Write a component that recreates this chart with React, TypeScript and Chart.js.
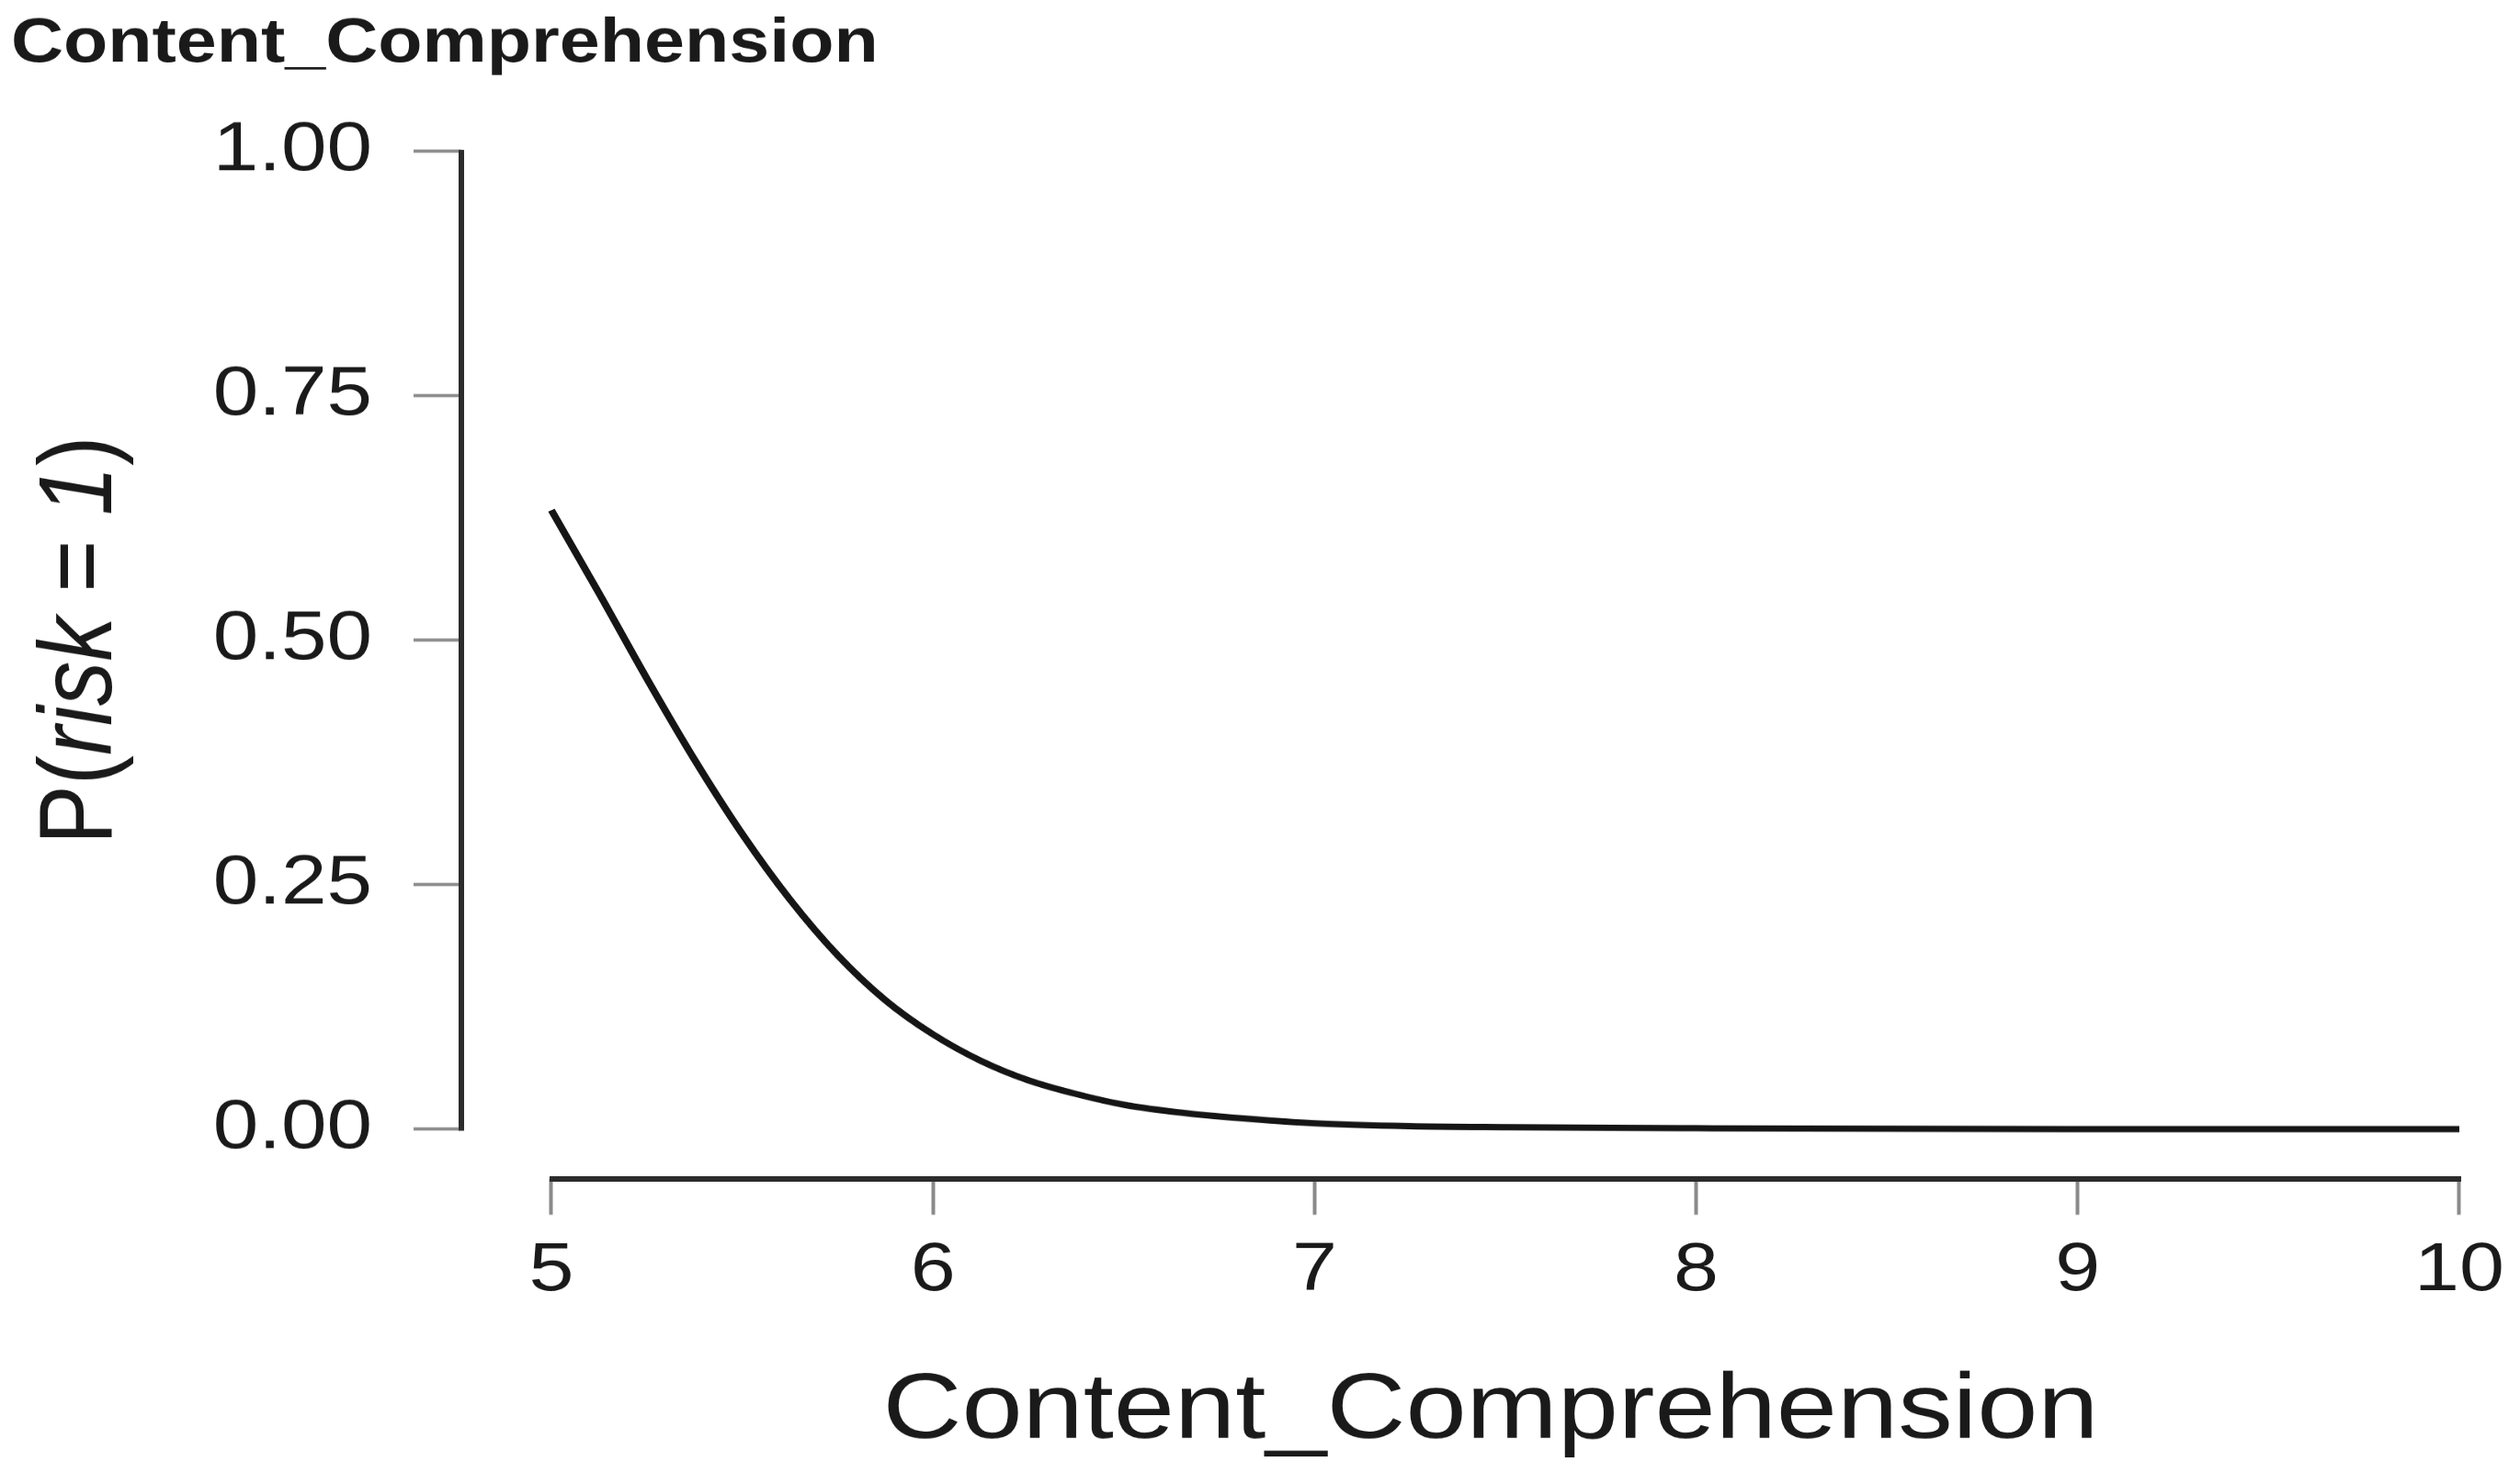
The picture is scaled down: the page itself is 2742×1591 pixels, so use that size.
import React, { useEffect, useRef } from 'react';
import { Chart, registerables } from 'chart.js';

Chart.register(...registerables);

// ---- data ----
const chartTitle = 'Content_Comprehension';
const xAxisTitle = 'Content_Comprehension';
const xValues = [5, 5.125, 5.25, 5.375, 5.5, 5.625, 5.75, 5.875, 6, 6.125, 6.25, 6.375, 6.5, 6.625, 6.75, 7, 7.25, 7.5, 8, 9, 10];
const pRisk = [0.633, 0.548, 0.461, 0.378, 0.302, 0.235, 0.178, 0.132, 0.097, 0.07, 0.05, 0.036, 0.025, 0.018, 0.013, 0.006, 0.003, 0.002, 0.001, 0.0, 0.0];
const xTicks = [5, 6, 7, 8, 9, 10];
const yTicks = [0, 0.25, 0.5, 0.75, 1];
const yTitleParts = [
  { text: 'P(', italic: false },
  { text: 'risk', italic: true },
  { text: ' = ', italic: false },
  { text: '1', italic: true },
  { text: ')', italic: false },
];

// ---- layout ----
const W = 2742;
const H_CSS = 1591;
const H_INT = 1872; // internal height, displayed squeezed like the reference
const FONT = '"Liberation Sans", Arial, Helvetica, sans-serif';

const axisPlugin = {
  id: 'rAxes',
  afterDraw(chart: any) {
    const { ctx, chartArea } = chart;
    const xs = chart.scales.x;
    const ys = chart.scales.y;
    ctx.save();
    ctx.strokeStyle = '#2b2b2b';
    ctx.lineCap = 'butt';
    // x axis line (first to last tick)
    ctx.lineWidth = 7;
    ctx.beginPath();
    ctx.moveTo(xs.getPixelForValue(xTicks[0]) - 2, chartArea.bottom);
    ctx.lineTo(xs.getPixelForValue(xTicks[xTicks.length - 1]) + 2, chartArea.bottom);
    ctx.stroke();
    // y axis line
    ctx.lineWidth = 6;
    ctx.beginPath();
    ctx.moveTo(chartArea.left, ys.getPixelForValue(yTicks[yTicks.length - 1]) - 2);
    ctx.lineTo(chartArea.left, ys.getPixelForValue(yTicks[0]) + 2);
    ctx.stroke();

    // y axis title with italic parts
    const size = 114;
    const fontFor = (it: boolean) => `${it ? 'italic ' : ''}${size}px ${FONT}`;
    let total = 0;
    const widths = yTitleParts.map((p) => {
      ctx.font = fontFor(p.italic);
      const w = ctx.measureText(p.text).width;
      total += w;
      return w;
    });
    const cy = (ys.getPixelForValue(-0.04) + ys.getPixelForValue(1.04)) / 2;
    ctx.translate(121, cy);
    ctx.rotate(-Math.PI / 2);
    ctx.fillStyle = '#1a1a1a';
    ctx.textBaseline = 'alphabetic';
    ctx.textAlign = 'left';
    let x = -total / 2;
    yTitleParts.forEach((p, i) => {
      ctx.font = fontFor(p.italic);
      ctx.fillText(p.text, x, 0);
      x += widths[i];
    });
    ctx.restore();
  },
};

export default function App() {
  const ref = useRef<HTMLCanvasElement | null>(null);

  useEffect(() => {
    if (!ref.current) return;
    const chart = new Chart(ref.current, {
      type: 'line',
      data: {
        datasets: [
          {
            data: xValues.map((x, i) => ({ x, y: pRisk[i] })),
            borderColor: '#151515',
            borderWidth: 8,
            pointRadius: 0,
            fill: false,
            cubicInterpolationMode: 'monotone',
          },
        ],
      },
      options: {
        animation: false,
        responsive: false,
        devicePixelRatio: 1,
        layout: { padding: { left: 12, right: 0, top: 0, bottom: 0 } },
        plugins: {
          legend: { display: false },
          tooltip: { enabled: false },
          title: {
            display: true,
            text: chartTitle,
            align: 'start',
            color: '#1a1a1a',
            font: { family: FONT, size: 79, weight: 'bold', lineHeight: 1.2 },
            padding: { top: 10, bottom: 39 },
          },
        },
        scales: {
          x: {
            type: 'linear',
            min: 4.764,
            max: 10.159,
            afterBuildTicks: (s: any) => {
              s.ticks = xTicks.map((v) => ({ value: v }));
            },
            afterFit: (s: any) => {
              s.height = H_INT - 1509.4;
              s.paddingLeft = 0;
              s.paddingRight = 0;
            },
            border: { display: false },
            grid: {
              display: true,
              drawOnChartArea: false,
              drawTicks: true,
              tickLength: 46,
              tickWidth: 4,
              tickColor: '#8a8a8a',
            },
            ticks: {
              autoSkip: false,
              maxRotation: 0,
              minRotation: 0,
              includeBounds: false,
              padding: 20,
              color: '#1a1a1a',
              font: { family: FONT, size: 88, lineHeight: 1.2 },
              callback: (v: any) => String(v),
            },
            title: {
              display: true,
              text: xAxisTitle,
              color: '#1a1a1a',
              font: { family: FONT, size: 119, lineHeight: 1.0 },
              padding: { top: 0, bottom: 4 },
            },
          },
          y: {
            type: 'linear',
            min: -0.0508,
            max: 1.04,
            afterBuildTicks: (s: any) => {
              s.ticks = yTicks.map((v) => ({ value: v }));
            },
            afterFit: (s: any) => {
              s.width = 502 - 12;
              s.paddingTop = 0;
              s.paddingBottom = 0;
            },
            border: { display: false },
            grid: {
              display: true,
              drawOnChartArea: false,
              drawTicks: true,
              tickLength: 52,
              tickWidth: 4,
              tickColor: '#8a8a8a',
            },
            ticks: {
              includeBounds: false,
              padding: 45,
              color: '#1a1a1a',
              font: { family: FONT, size: 89, lineHeight: 1.2 },
              callback: (v: any) => Number(v).toFixed(2),
            },
            title: { display: false },
          },
        },
      },
      plugins: [axisPlugin],
    } as any);
    return () => chart.destroy();
  }, []);

  return (
    <div style={{ position: 'fixed', left: 0, top: 0, width: W, height: H_CSS, background: '#ffffff' }}>
      <canvas
        ref={ref}
        width={W}
        height={H_INT}
        style={{ width: `${W}px`, height: `${H_CSS}px`, display: 'block' }}
      />
    </div>
  );
}
